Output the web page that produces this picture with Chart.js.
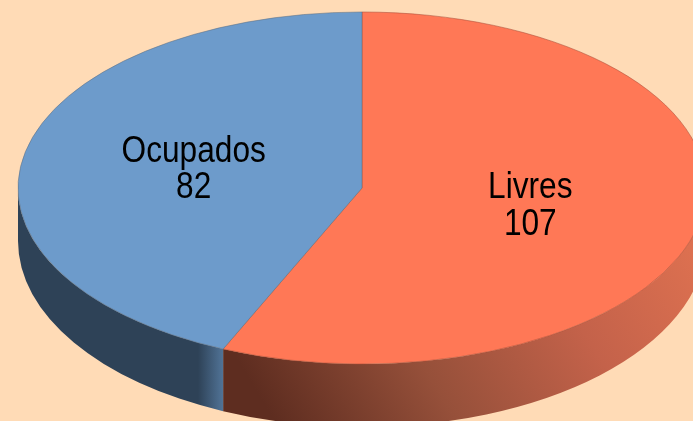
<!DOCTYPE html>
<html>
<head>
<meta charset="utf-8">
<style>
  html, body { margin: 0; padding: 0; width: 693px; height: 421px; overflow: hidden; background: #ffdbb6; }
  #wrap { position: absolute; left: 0; top: 0; width: 724px; height: 421px; }
</style>
<script src="https://cdn.jsdelivr.net/npm/chart.js@4"></script>
</head>
<body>
<div id="wrap"><canvas id="pie" width="724" height="421"></canvas></div>
<script>
const categories = ['Livres', 'Ocupados'];
const seriesValues = [107, 82];
const sliceColors = ['#ff7856', '#6d9bcb'];
const edgeColors = ['#a84a35', '#5f6f80'];

const squash = 176 / 344; // pie is tilted, circle becomes ellipse
const rimDrop = 53;       // bottom rim sits lower and is a bit rounder than the top
const rimRadiusY = 186;
const textSqueeze = 0.855; // no narrow font installed

function wallFill(ctx, index) {
  if (index === 0) {
    const g = ctx.createLinearGradient(280, 430, 660, 200);
    g.addColorStop(0, '#5e2d20');
    g.addColorStop(0.35, '#96503a');
    g.addColorStop(0.7, '#c4624a');
    g.addColorStop(1, '#dc7050');
    return g;
  }
  const g = ctx.createLinearGradient(198, 0, 224, 0);
  g.addColorStop(0, '#2e4257');
  g.addColorStop(1, '#527599');
  return g;
}

const tiltPlugin = {
  id: 'tilt',
  beforeDatasetsDraw(chart) {
    const ctx = chart.ctx;
    const arcs = chart.getDatasetMeta(0).data;
    arcs.forEach((arc, i) => {
      // only the part of the rim facing the viewer
      const a0 = Math.max(arc.startAngle, 0);
      const a1 = Math.min(arc.endAngle, Math.PI);
      if (a1 <= a0) return;
      const rx = arc.outerRadius, ry = rx * squash;
      ctx.beginPath();
      ctx.ellipse(arc.x, arc.y, rx, ry, 0, a0, a1);
      ctx.ellipse(arc.x, arc.y + rimDrop, rx, rimRadiusY, 0, a1, a0, true);
      ctx.closePath();
      ctx.fillStyle = wallFill(ctx, i);
      ctx.fill();
    });
    const cy = arcs[0].y;
    ctx.save();
    ctx.translate(0, cy);
    ctx.scale(1, squash);
    ctx.translate(0, -cy);
  },
  afterDatasetsDraw(chart) {
    chart.ctx.restore();
  },
  afterDraw(chart) {
    const ctx = chart.ctx;
    ctx.save();
    ctx.fillStyle = '#000';
    ctx.font = '37px "Liberation Sans"';
    ctx.textAlign = 'center';
    ctx.textBaseline = 'alphabetic';
    chart.getDatasetMeta(0).data.forEach((arc, i) => {
      const p = arc.getCenterPoint();
      const y = arc.y + (p.y - arc.y) * squash;
      ctx.save();
      ctx.translate(p.x, y);
      ctx.scale(textSqueeze, 1);
      ctx.fillText(categories[i], 0, -8);
      ctx.fillText(String(seriesValues[i]), 0, 28.5);
      ctx.restore();
    });
    ctx.restore();
  }
};

new Chart(document.getElementById('pie'), {
  type: 'pie',
  data: {
    labels: categories,
    datasets: [{
      data: seriesValues,
      backgroundColor: sliceColors,
      borderColor: edgeColors,
      borderWidth: 0.7,
      clip: false
    }]
  },
  options: {
    responsive: false,
    animation: false,
    radius: 344,
    layout: { padding: { bottom: 45 } },
    plugins: {
      legend: { display: false },
      tooltip: { enabled: false }
    }
  },
  plugins: [tiltPlugin]
});
</script>
</body>
</html>
